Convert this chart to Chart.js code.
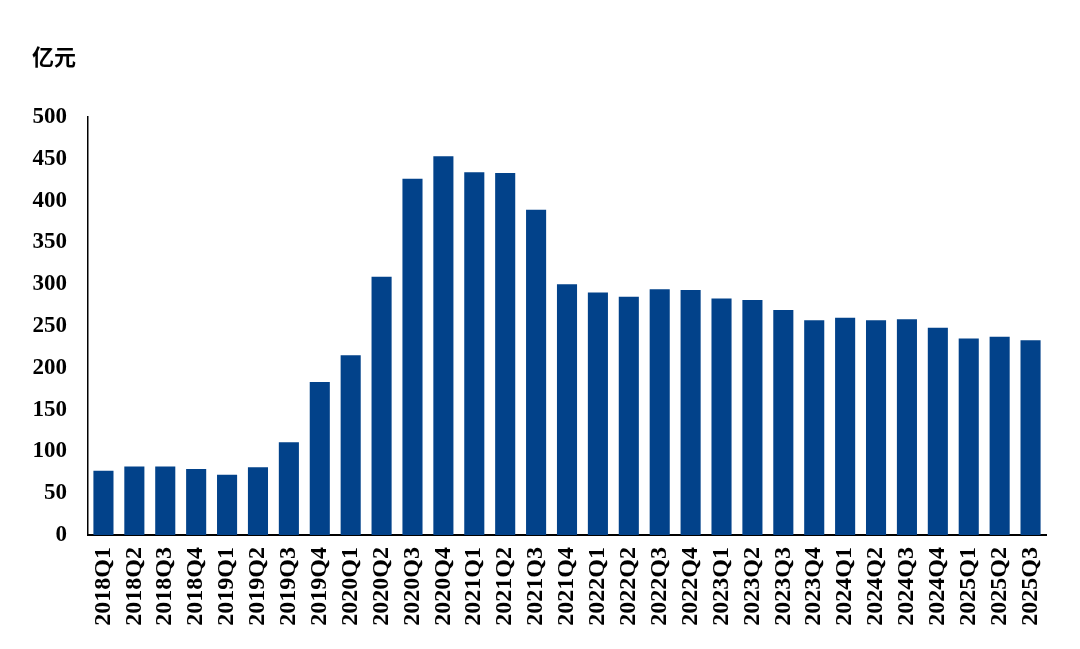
<!DOCTYPE html>
<html>
<head>
<meta charset="utf-8">
<script src="https://cdn.jsdelivr.net/npm/chart.js@4"></script>
<style>
  html, body { margin: 0; padding: 0; background: #ffffff; }
  #wrap { position: relative; width: 1080px; height: 649px; }
  #unit { position: absolute; left: 32px; top: 39px; font-family: "Noto Sans CJK SC", sans-serif; font-size: 22px; font-weight: bold; color: #000; }
  canvas { display: block; }
</style>
</head>
<body>
<div id="wrap">
  <div id="unit">亿元</div>
  <canvas id="c" width="1080" height="649"></canvas>
</div>
<script>
const categories = ["2018Q1","2018Q2","2018Q3","2018Q4","2019Q1","2019Q2","2019Q3","2019Q4","2020Q1","2020Q2","2020Q3","2020Q4","2021Q1","2021Q2","2021Q3","2021Q4","2022Q1","2022Q2","2022Q3","2022Q4","2023Q1","2023Q2","2023Q3","2023Q4","2024Q1","2024Q2","2024Q3","2024Q4","2025Q1","2025Q2","2025Q3"];
const values = [77,82,82,79,72,81,111,183,215,309,426,453,434,433,389,300,290,285,294,293,283,281,269,257,260,257,258,248,235,237,233];
const yTicks = [0,50,100,150,200,250,300,350,400,450,500];

const serif = "'Liberation Serif', 'Times New Roman', serif";

new Chart(document.getElementById('c'), {
  type: 'bar',
  data: {
    labels: categories,
    datasets: [{
      data: values,
      backgroundColor: '#02428a',
      borderWidth: 0,
      barPercentage: 0.65,
      categoryPercentage: 1.0
    }]
  },
  options: {
    responsive: false,
    animation: false,
    devicePixelRatio: 1,
    layout: { padding: { top: 117, right: 34, left: 0, bottom: 0 } },
    plugins: { legend: { display: false }, tooltip: { enabled: false } },
    scales: {
      x: {
        grid: { display: false, drawTicks: false },
        border: { display: true, color: '#000', width: 2 },
        ticks: {
          color: '#000', font: { family: serif, size: 24, weight: 'bold' }, padding: 12,
          maxRotation: 90, minRotation: 90, autoSkip: false
        },
        afterFit: (s) => { s.height = 114; }
      },
      y: {
        min: 0, max: 500,
        afterBuildTicks: (s) => { s.ticks = yTicks.map(v => ({ value: v })); },
        grid: { display: false, drawTicks: false },
        border: { display: true, color: '#000', width: 1.5 },
        ticks: { color: '#000', font: { family: serif, size: 23, weight: 'bold' }, padding: 21 },
        afterFit: (s) => { s.width = 88; }
      }
    }
  }
});
</script>
</body>
</html>
